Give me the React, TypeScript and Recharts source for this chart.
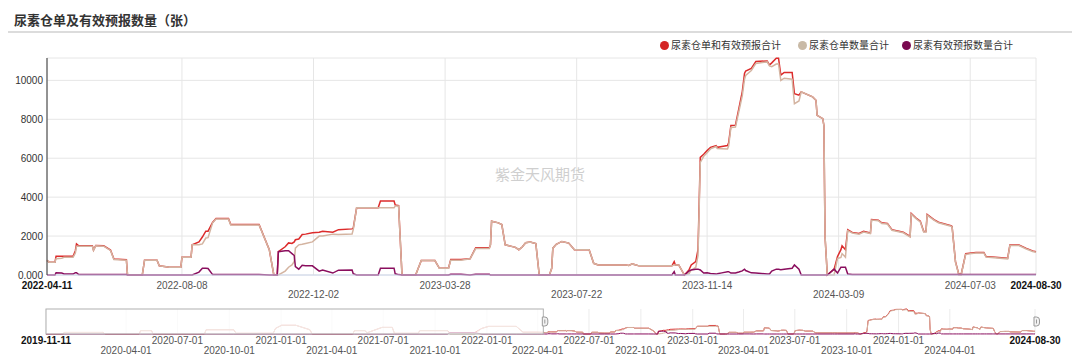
import React from 'react';
import { LineChart, Line, XAxis, YAxis, CartesianGrid, ReferenceArea } from 'recharts';

const seriesNames = ['尿素仓单和有效预报合计', '尿素仓单数量合计', '尿素有效预报数量合计'];
const lineColors = ['#dc2b2b', '#d4b4a1', '#8a0e5e'];
const dotColors = ['#d42626', '#c9baa6', '#7a0a50'];

// main window: 2022-04-11 .. 2024-08-30
const dates = [
  '2022-04-11', '2022-04-13', '2022-04-18', '2022-04-19', '2022-04-24', '2022-04-26', '2022-05-04', '2022-05-06', '2022-05-07', '2022-05-09',
  '2022-05-21', '2022-05-22', '2022-05-24', '2022-05-31', '2022-06-06', '2022-06-09', '2022-06-20', '2022-06-21', '2022-07-04', '2022-07-06',
  '2022-07-17', '2022-07-19', '2022-07-28', '2022-08-07', '2022-08-08', '2022-08-16', '2022-08-17', '2022-08-23', '2022-08-26', '2022-08-29',
  '2022-08-31', '2022-09-04', '2022-09-07', '2022-09-18', '2022-09-20', '2022-10-15', '2022-10-24', '2022-10-28', '2022-10-31', '2022-11-01',
  '2022-11-07', '2022-11-10', '2022-11-13', '2022-11-15', '2022-11-16', '2022-11-19', '2022-11-22', '2022-11-25', '2022-12-01', '2022-12-07',
  '2022-12-10', '2022-12-19', '2022-12-24', '2023-01-05', '2023-01-06', '2023-01-09', '2023-01-28', '2023-01-30', '2023-02-11', '2023-02-12',
  '2023-02-15', '2023-02-18', '2023-02-28', '2023-03-02', '2023-03-07', '2023-03-19', '2023-03-23', '2023-03-31', '2023-04-02', '2023-04-11',
  '2023-04-19', '2023-04-24', '2023-05-06', '2023-05-07', '2023-05-08', '2023-05-14', '2023-05-17', '2023-05-20', '2023-05-29', '2023-06-01',
  '2023-06-04', '2023-06-07', '2023-06-11', '2023-06-16', '2023-06-19', '2023-06-28', '2023-06-30', '2023-07-01', '2023-07-04', '2023-07-09',
  '2023-07-15', '2023-07-20', '2023-08-02', '2023-08-06', '2023-08-10', '2023-09-03', '2023-09-06', '2023-09-09', '2023-09-15', '2023-10-14',
  '2023-10-16', '2023-10-17', '2023-10-20', '2023-10-25', '2023-10-29', '2023-10-31', '2023-11-04', '2023-11-06', '2023-11-08', '2023-11-11',
  '2023-11-14', '2023-11-17', '2023-11-22', '2023-11-23', '2023-11-27', '2023-12-02', '2023-12-03', '2023-12-05', '2023-12-09', '2023-12-12',
  '2023-12-15', '2023-12-17', '2023-12-18', '2023-12-23', '2023-12-27', '2024-01-06', '2024-01-08', '2024-01-10', '2024-01-14', '2024-01-16',
  '2024-01-18', '2024-01-21', '2024-01-28', '2024-01-30', '2024-02-03', '2024-02-05', '2024-02-15', '2024-02-18', '2024-02-19', '2024-02-24',
  '2024-02-25', '2024-02-26', '2024-02-28', '2024-03-05', '2024-03-08', '2024-03-11', '2024-03-12', '2024-03-15', '2024-03-17', '2024-03-21',
  '2024-03-27', '2024-03-31', '2024-04-06', '2024-04-07', '2024-04-13', '2024-04-16', '2024-04-21', '2024-04-25', '2024-05-05', '2024-05-11',
  '2024-05-12', '2024-05-16', '2024-05-20', '2024-05-23', '2024-05-25', '2024-05-26', '2024-06-01', '2024-06-05', '2024-06-16', '2024-06-17',
  '2024-06-20', '2024-06-23', '2024-06-25', '2024-06-29', '2024-07-08', '2024-07-15', '2024-07-17', '2024-08-05', '2024-08-07', '2024-08-15',
  '2024-08-21', '2024-08-27', '2024-08-30',
];

const totals = [
  750, 650, 650, 960, 960, 960, 960, 1250, 1600, 1500,
  1500, 1280, 1520, 1500, 1280, 820, 780, 0, 0, 760,
  760, 470, 400, 400, 915, 915, 1550, 1700, 1950, 2250,
  2250, 2700, 2900, 2900, 2590, 2590, 1300, 0, 0, 1200,
  1450, 1650, 1620, 1700, 1810, 1850, 2080, 2100, 2170, 2200,
  2250, 2200, 2330, 2370, 2400, 3450, 3450, 3800, 3800, 3600,
  3560, 0, 0, 0, 740, 740, 345, 345, 800, 800,
  830, 1400, 1400, 1550, 2760, 2680, 2590, 1550, 1420, 1300,
  1440, 1660, 1700, 1620, 0, 0, 345, 1380, 1580, 1725,
  1640, 1300, 1300, 600, 520, 520, 490, 570, 470, 470,
  690, 520, 520, 0, 260, 520, 690, 1300, 6040, 6200,
  6390, 6560, 6650, 6560, 6600, 6650, 6790, 7680, 7700, 8550,
  9410, 10360, 10480, 10620, 10970, 11000, 10790, 10900, 11140, 11140,
  10270, 10410, 10410, 9320, 9240, 9410, 9150, 8980, 8200, 8030,
  7680, 1980, 0, 300, 950, 1300, 1500, 1300, 2330, 2190,
  2130, 2240, 2160, 2850, 2820, 2680, 2650, 2330, 2200, 1980,
  3160, 2940, 2760, 2240, 2240, 3110, 2850, 2710, 2540, 2500,
  690, 30, 30, 1090, 1160, 1160, 950, 860, 1540, 1540,
  1380, 1240, 1200,
];

const receipts = [
  750, 650, 650, 840, 860, 910, 910, 1130, 1480, 1480,
  1480, 1260, 1500, 1480, 1260, 800, 760, 0, 0, 760,
  760, 470, 400, 400, 915, 915, 1550, 1550, 1600, 1900,
  1920, 2680, 2880, 2880, 2570, 2570, 1300, 0, 0, 0,
  200, 400, 520, 700, 1380, 1550, 1580, 1620, 1700, 2000,
  2000, 2100, 2080, 2110, 2330, 3450, 3450, 3450, 3450, 3540,
  3540, 0, 0, 0, 740, 740, 345, 345, 760, 760,
  830, 1360, 1360, 1550, 2760, 2680, 2590, 1550, 1420, 1300,
  1440, 1660, 1700, 1620, 0, 0, 345, 1380, 1580, 1725,
  1640, 1300, 1300, 600, 520, 520, 490, 570, 470, 470,
  520, 520, 520, 0, 60, 260, 390, 1000, 5780, 6100,
  6280, 6480, 6600, 6500, 6490, 6480, 6620, 7580, 7600, 8400,
  9200, 10060, 10250, 10510, 10870, 10950, 10740, 10700, 10840, 10850,
  10000, 10110, 10060, 8800, 8940, 9410, 9150, 8980, 8200, 8030,
  7680, 1980, 0, 0, 850, 900, 1100, 915, 2280, 2160,
  2100, 2210, 2130, 2820, 2790, 2650, 2620, 2300, 2170, 1950,
  3130, 2910, 2730, 2210, 2210, 3080, 2820, 2680, 2510, 2470,
  660, 0, 0, 1060, 1130, 1130, 920, 830, 1510, 1510,
  1350, 1210, 1170,
];

const forecasts = [
  0, 0, 0, 120, 100, 50, 50, 120, 120, 20,
  20, 20, 20, 20, 20, 20, 20, 0, 0, 0,
  0, 0, 0, 0, 0, 0, 0, 150, 345, 345,
  330, 20, 20, 20, 20, 20, 0, 0, 0, 1200,
  1250, 1250, 1100, 1000, 430, 300, 500, 480, 470, 200,
  250, 100, 250, 260, 70, 0, 0, 350, 350, 60,
  20, 0, 0, 0, 0, 0, 0, 0, 40, 40,
  0, 40, 40, 0, 0, 0, 0, 0, 0, 0,
  0, 0, 0, 0, 0, 0, 0, 0, 0, 0,
  0, 0, 0, 0, 0, 0, 0, 0, 0, 0,
  170, 0, 0, 0, 200, 260, 300, 300, 260, 100,
  110, 80, 50, 60, 110, 170, 170, 100, 100, 150,
  210, 300, 230, 110, 100, 50, 50, 200, 300, 290,
  270, 300, 350, 520, 300, 0, 0, 0, 0, 0,
  0, 0, 0, 300, 100, 400, 400, 400, 50, 30,
  30, 30, 30, 30, 30, 30, 30, 30, 30, 30,
  30, 30, 30, 30, 30, 30, 30, 30, 30, 30,
  30, 30, 30, 30, 30, 30, 30, 30, 30, 30,
  30, 30, 30,
];

// earlier history, only visible in the navigator strip
const earlyDates = [
  '2019-11-11', '2019-12-10', '2019-12-14', '2020-02-20', '2020-02-24', '2020-04-24', '2020-04-27', '2020-05-16', '2020-05-19', '2020-08-18',
  '2020-08-21', '2020-10-09', '2020-10-13', '2020-12-18', '2020-12-22', '2021-01-02', '2021-01-27', '2021-02-21', '2021-02-25', '2021-05-08',
  '2021-05-11', '2021-05-30', '2021-06-02', '2021-06-29', '2021-07-17', '2021-07-21', '2021-09-01', '2021-09-04', '2021-10-23', '2021-10-27',
  '2021-11-16', '2021-12-10', '2021-12-23', '2022-01-04', '2022-02-22', '2022-03-06', '2022-03-31', '2022-04-08',
];
const earlyTotals = [
  0, 0, 700, 700, 0, 0, 1500, 1500, 0, 0,
  1900, 1900, 300, 300, 2500, 3900, 3900, 1900, 0, 0,
  1500, 1500, 500, 2950, 2950, 300, 300, 1500, 1500, 600,
  600, 600, 2500, 3400, 3400, 800, 800, 750,
];
const earlyReceipts = [
  0, 0, 700, 700, 0, 0, 1500, 1500, 0, 0,
  1900, 1900, 300, 300, 2500, 3900, 3900, 1900, 0, 0,
  1500, 1500, 500, 2950, 2950, 300, 300, 1500, 1500, 0,
  0, 0, 2500, 3400, 3400, 800, 800, 750,
];
const earlyForecasts = [
  0, 0, 0, 0, 0, 0, 0, 0, 0, 0,
  0, 0, 0, 0, 0, 0, 0, 0, 0, 0,
  0, 0, 0, 0, 0, 0, 0, 0, 0, 600,
  600, 600, 0, 0, 0, 0, 0, 0,
];

const yTicks = [0, 2000, 4000, 6000, 8000, 10000];
const yMax = 11150;
const mainTickDates = ['2022-04-11', '2022-08-08', '2022-12-02', '2023-03-28', '2023-07-22', '2023-11-14', '2024-03-09', '2024-07-03', '2024-08-30'];
const navTickDates = [
  '2019-11-11', '2020-04-01', '2020-07-01', '2020-10-01', '2021-01-01', '2021-04-01', '2021-07-01', '2021-10-01', '2022-01-01', '2022-04-01',
  '2022-07-01', '2022-10-01', '2023-01-01', '2023-04-01', '2023-07-01', '2023-10-01', '2024-01-01', '2024-04-01', '2024-08-30',
];

const toT = (d: string) => Date.parse(d);
const fmt = (t: number) => new Date(t).toISOString().slice(0, 10);

const mainRows = dates.map((d, i) => ({ t: toT(d), total: totals[i], receipts: receipts[i], forecast: forecasts[i] }));
const earlyRows = earlyDates.map((d, i) => ({ t: toT(d), total: earlyTotals[i], receipts: earlyReceipts[i], forecast: earlyForecasts[i] }));
const navRows = [...earlyRows, ...mainRows];

const mainTicks = mainTickDates.map(toT);
const navTicks = navTickDates.map(toT);
const mainStart = mainTicks[0];
const mainEnd = mainTicks[mainTicks.length - 1];
const navStart = navTicks[0];

const latin = "'Liberation Sans', Arial, 'Noto Sans CJK SC', sans-serif";
const cjk = "'Noto Sans CJK SC', 'Liberation Sans', sans-serif";

function StaggerTick(props: any) {
  const { x, y, payload, ticks, upperGap, lowerGap } = props;
  const i = ticks.indexOf(payload.value);
  const edge = i === 0 || i === ticks.length - 1;
  const upper = edge || i % 2 === 1;
  return (
    <text
      x={x}
      y={y + (upper ? upperGap : lowerGap)}
      textAnchor="middle"
      fontSize={10}
      fontFamily={latin}
      fontWeight={edge ? 'bold' : 'normal'}
      fill={edge ? '#111' : '#555'}
    >
      {fmt(payload.value)}
    </text>
  );
}

function NavTick(props: any) {
  const { x, y, payload } = props;
  const i = navTicks.indexOf(payload.value);
  const edge = i === 0 || i === navTicks.length - 1;
  const upper = edge || i % 2 === 0;
  return (
    <text
      x={x}
      y={y + (upper ? 10 : 19.5)}
      textAnchor="middle"
      fontSize={10}
      fontFamily={latin}
      fontWeight={edge ? 'bold' : 'normal'}
      fill={edge ? '#111' : '#555'}
    >
      {fmt(payload.value)}
    </text>
  );
}

function MaskShape(props: any) {
  const { x, y, width, height } = props;
  return <rect x={x} y={y} width={width} height={height} fill="#ffffff" fillOpacity={0.72} stroke="#b0b0b0" strokeWidth={1} />;
}

function HandleShape(props: any) {
  const { x, y, width, height } = props;
  const cy = y + height / 2;
  return (
    <g>
      {[x, x + width].map((hx: number, k: number) => (
        <g key={k}>
          <path
            d={`M${hx - 1} ${cy - 4.5} h2.5 a3 3 0 0 1 3 3 v3 a3 3 0 0 1 -3 3 h-2.5 z`}
            fill="#f2f2f2"
            stroke="#999"
            strokeWidth={1}
          />
          <line x1={hx + 1.5} x2={hx + 1.5} y1={cy - 2} y2={cy + 2} stroke="#999" strokeWidth={1} />
        </g>
      ))}
    </g>
  );
}

export default function App() {
  const legendLeft = [660, 798, 902];

  return (
    <div style={{ position: 'absolute', left: 0, top: 0, width: 1080, height: 359, background: '#fff', overflow: 'hidden' }}>
      <div style={{ position: 'absolute', left: 14, top: 10, fontFamily: cjk, fontSize: 13, fontWeight: 'bold', color: '#333', lineHeight: '20px' }}>
        尿素仓单及有效预报数量（张）
      </div>
      <div style={{ position: 'absolute', left: 8, top: 31, width: 1064, height: 2, background: '#dcdcdc' }} />

      {seriesNames.map((name, i) => (
        <div
          key={name}
          style={{ position: 'absolute', left: legendLeft[i], top: 38, display: 'flex', alignItems: 'center', fontFamily: cjk, fontSize: 10, color: '#333', lineHeight: '14px', whiteSpace: 'nowrap' }}
        >
          <span style={{ display: 'inline-block', width: 9, height: 9, borderRadius: '50%', background: dotColors[i], marginRight: 2 }} />
          {name}
        </div>
      ))}

      <div style={{ position: 'absolute', left: 0, top: 0 }}>
        <LineChart width={1080} height={300} data={mainRows} margin={{ top: 58, right: 44, left: 0, bottom: 0 }}>
          <CartesianGrid stroke="#e6e6e6" strokeWidth={1} />
          <XAxis
            dataKey="t"
            type="number"
            domain={[mainStart, mainEnd]}
            ticks={mainTicks}
            interval={0}
            height={25}
            tickSize={0}
            tickMargin={0}
            tickLine={false}
            axisLine={{ stroke: '#ccd6eb' }}
            tick={<StaggerTick ticks={mainTicks} upperGap={14} lowerGap={23} />}
          />
          <YAxis
            type="number"
            domain={[0, yMax]}
            ticks={yTicks}
            interval={0}
            width={47}
            tickSize={0}
            tickMargin={4}
            tickLine={false}
            axisLine={{ stroke: '#333' }}
            tick={{ fontSize: 10, fill: '#333', fontFamily: latin }}
            tickFormatter={(v: number) => (v === 0 ? '0.000' : String(v))}
          />
          <Line type="linear" dataKey="total" name={seriesNames[0]} stroke={lineColors[0]} strokeWidth={1.5} dot={false} isAnimationActive={false} />
          <Line type="linear" dataKey="receipts" name={seriesNames[1]} stroke={lineColors[1]} strokeWidth={1.5} dot={false} isAnimationActive={false} />
          <Line type="linear" dataKey="forecast" name={seriesNames[2]} stroke={lineColors[2]} strokeWidth={1.5} dot={false} isAnimationActive={false} />
        </LineChart>
      </div>

      <div style={{ position: 'absolute', left: 0, top: 163, width: 1080, textAlign: 'center', fontFamily: cjk, fontSize: 15, color: '#cfcfcf', pointerEvents: 'none' }}>
        紫金天风期货
      </div>

      <div style={{ position: 'absolute', left: 0, top: 300 }}>
        <LineChart width={1080} height={59} data={navRows} margin={{ top: 9, right: 45, left: 46, bottom: 0 }}>
          <CartesianGrid stroke="#ececec" horizontal={false} />
          <XAxis
            dataKey="t"
            type="number"
            domain={[navStart, mainEnd]}
            ticks={navTicks}
            interval={0}
            height={25}
            tickSize={0}
            tickMargin={0}
            tickLine={false}
            axisLine={false}
            tick={<NavTick />}
          />
          <YAxis hide type="number" domain={[0, yMax]} />
          <Line type="linear" dataKey="total" stroke={lineColors[0]} strokeWidth={1} dot={false} isAnimationActive={false} />
          <Line type="linear" dataKey="receipts" stroke={lineColors[1]} strokeWidth={1} dot={false} isAnimationActive={false} />
          <Line type="linear" dataKey="forecast" stroke={lineColors[2]} strokeWidth={1} dot={false} isAnimationActive={false} />
          <ReferenceArea x1={navStart} x2={mainStart} shape={<MaskShape />} zIndex={1000} />
          <ReferenceArea x1={mainStart} x2={mainEnd} shape={<HandleShape />} zIndex={1001} />
        </LineChart>
      </div>
    </div>
  );
}
